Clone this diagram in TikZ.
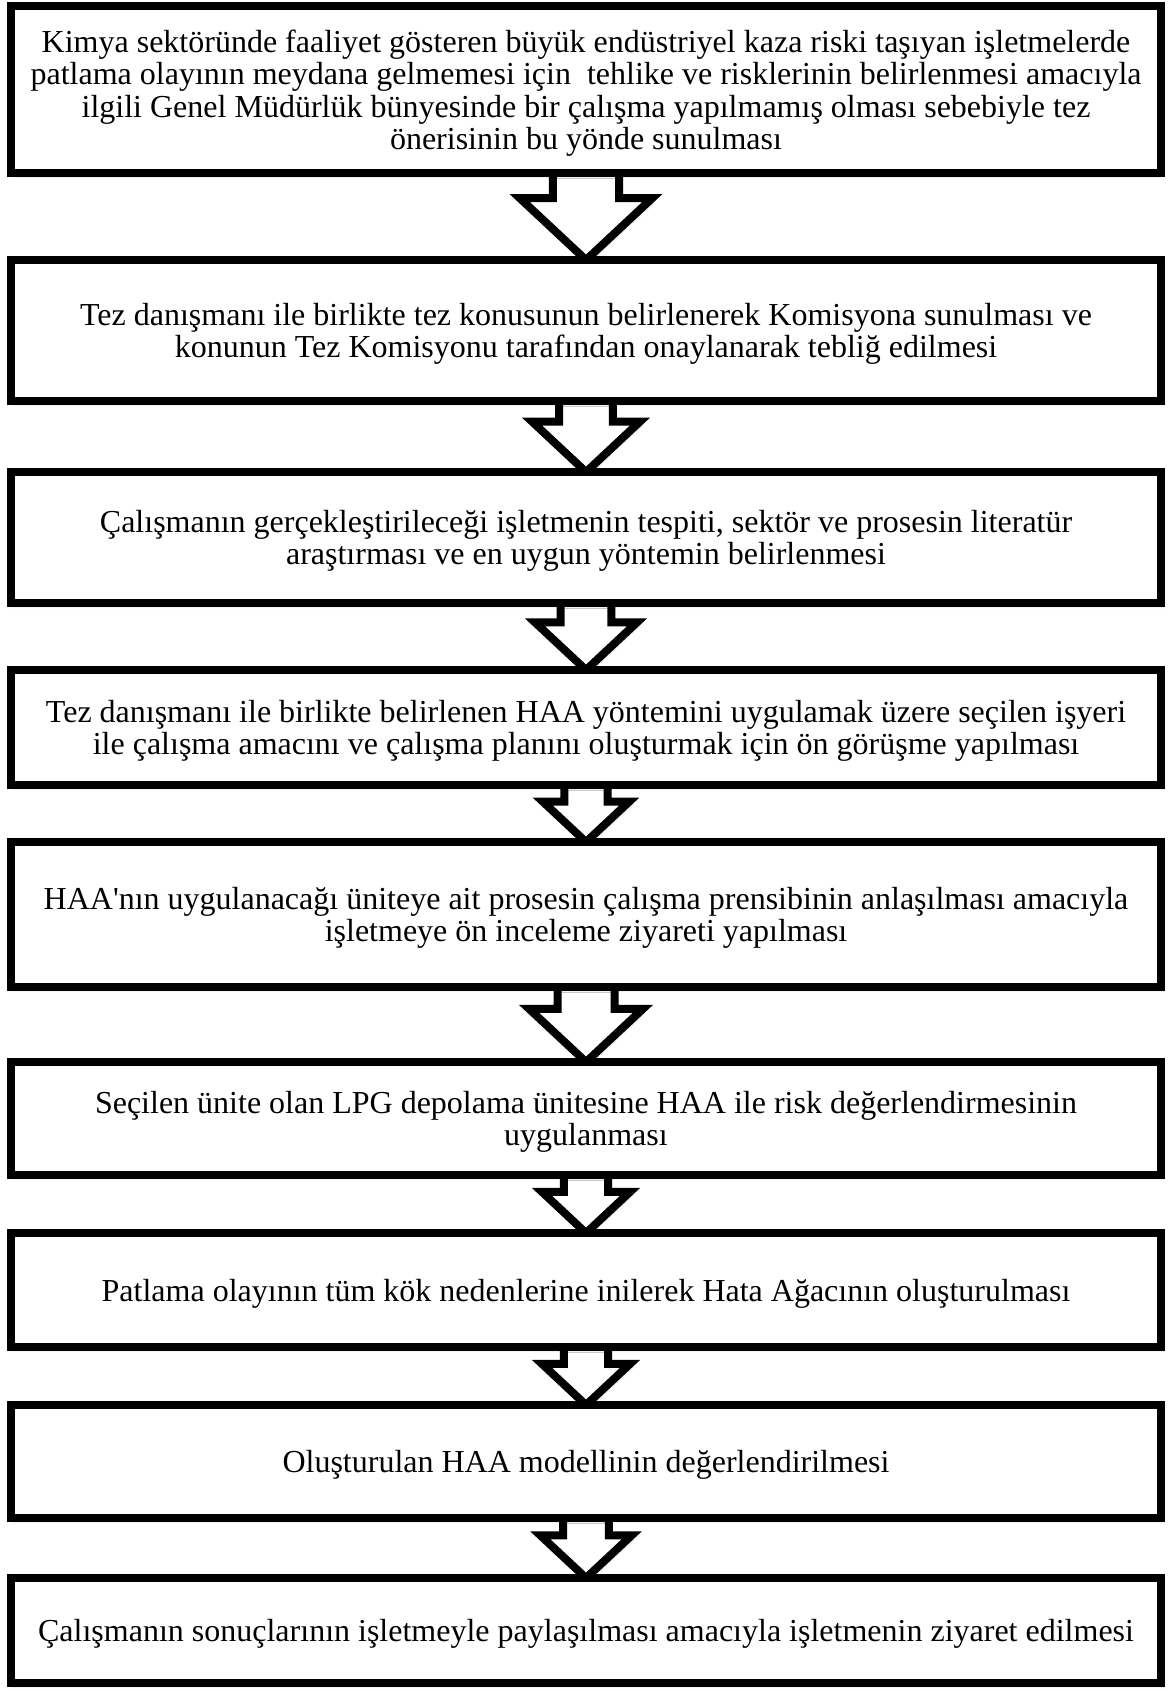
\documentclass[tikz,border=0pt]{standalone}
\usepackage{fontspec}
\setmainfont{Liberation Serif}
\usetikzlibrary{calc,backgrounds,shadows.blur}
\newcommand\flowarrow[2]{%
  \draw[flow] let \p1=(#1.south), \p2=(#2.north), \n1={\y1-\y2} in
    (\x1-0.38*\n1,\y1) -- (\x1-0.38*\n1,\y1-0.29*\n1) -- (\x1-0.76*\n1,\y1-0.29*\n1)
    -- (\x2,\y2) -- (\x1+0.76*\n1,\y1-0.29*\n1) -- (\x1+0.38*\n1,\y1-0.29*\n1)
    -- (\x1+0.38*\n1,\y1);}
\newcommand\boxtext[2]{\node[txt] (t#1) at ([yshift=-1.8pt]b#1.center) {#2};}
\begin{document}
\begin{tikzpicture}[x=0.5pt,y=-0.5pt,
  softshadow/.style={blur shadow={shadow xshift=0.8pt, shadow yshift=-1.3pt, shadow blur steps=6, shadow opacity=30, shadow blur radius=1.5pt}},
  box/.style={draw=black, line width=4pt, fill=white, minimum width=575pt, inner sep=0pt, outer sep=0pt, softshadow},
  txt/.style={inner sep=0pt, align=center, font=\fontsize{16}{16.2}\selectfont},
  flow/.style={draw=black, line width=4pt, fill=white, softshadow}]
\useasboundingbox (0,0) rectangle (1167,1690);
\node[box, minimum height=83.5pt] (b1) at (586,89.5) {};
\node[box, minimum height=70.5pt] (b2) at (586,330.5) {};
\node[box, minimum height=65.5pt] (b3) at (586,537.5) {};
\node[box, minimum height=57.5pt] (b4) at (586,727.5) {};
\node[box, minimum height=72.5pt] (b5) at (586,914.5) {};
\node[box, minimum height=56.5pt] (b6) at (586,1118.5) {};
\node[box, minimum height=57pt] (b7) at (586,1290) {};
\node[box, minimum height=56.5pt] (b8) at (586,1461.5) {};
\node[box, minimum height=52.5pt] (b9) at (586,1630.5) {};
\boxtext{1}{Kimya sektöründe faaliyet gösteren büyük endüstriyel kaza riski taşıyan işletmelerde\\patlama olayının meydana gelmemesi için~ tehlike ve risklerinin belirlenmesi amacıyla\\ilgili Genel Müdürlük bünyesinde bir çalışma yapılmamış olması sebebiyle tez\\önerisinin bu yönde sunulması}
\boxtext{2}{Tez danışmanı ile birlikte tez konusunun belirlenerek Komisyona sunulması ve\\konunun Tez Komisyonu tarafından onaylanarak tebliğ edilmesi}
\boxtext{3}{Çalışmanın gerçekleştirileceği işletmenin tespiti, sektör ve prosesin literatür\\araştırması ve en uygun yöntemin belirlenmesi}
\boxtext{4}{Tez danışmanı ile birlikte belirlenen HAA yöntemini uygulamak üzere seçilen işyeri\\ile çalışma amacını ve çalışma planını oluşturmak için ön görüşme yapılması}
\boxtext{5}{HAA\textquotesingle nın uygulanacağı üniteye ait prosesin çalışma prensibinin anlaşılması amacıyla\\işletmeye ön inceleme ziyareti yapılması}
\boxtext{6}{Seçilen ünite olan LPG depolama ünitesine HAA ile risk değerlendirmesinin\\uygulanması}
\boxtext{7}{Patlama olayının tüm kök nedenlerine inilerek Hata Ağacının oluşturulması}
\boxtext{8}{Oluşturulan HAA modellinin değerlendirilmesi}
\boxtext{9}{Çalışmanın sonuçlarının işletmeyle paylaşılması amacıyla işletmenin ziyaret edilmesi}
\begin{pgfonlayer}{background}
\flowarrow{b1}{b2}
\flowarrow{b2}{b3}
\flowarrow{b3}{b4}
\flowarrow{b4}{b5}
\flowarrow{b5}{b6}
\flowarrow{b6}{b7}
\flowarrow{b7}{b8}
\flowarrow{b8}{b9}
\end{pgfonlayer}
\end{tikzpicture}
\end{document}
